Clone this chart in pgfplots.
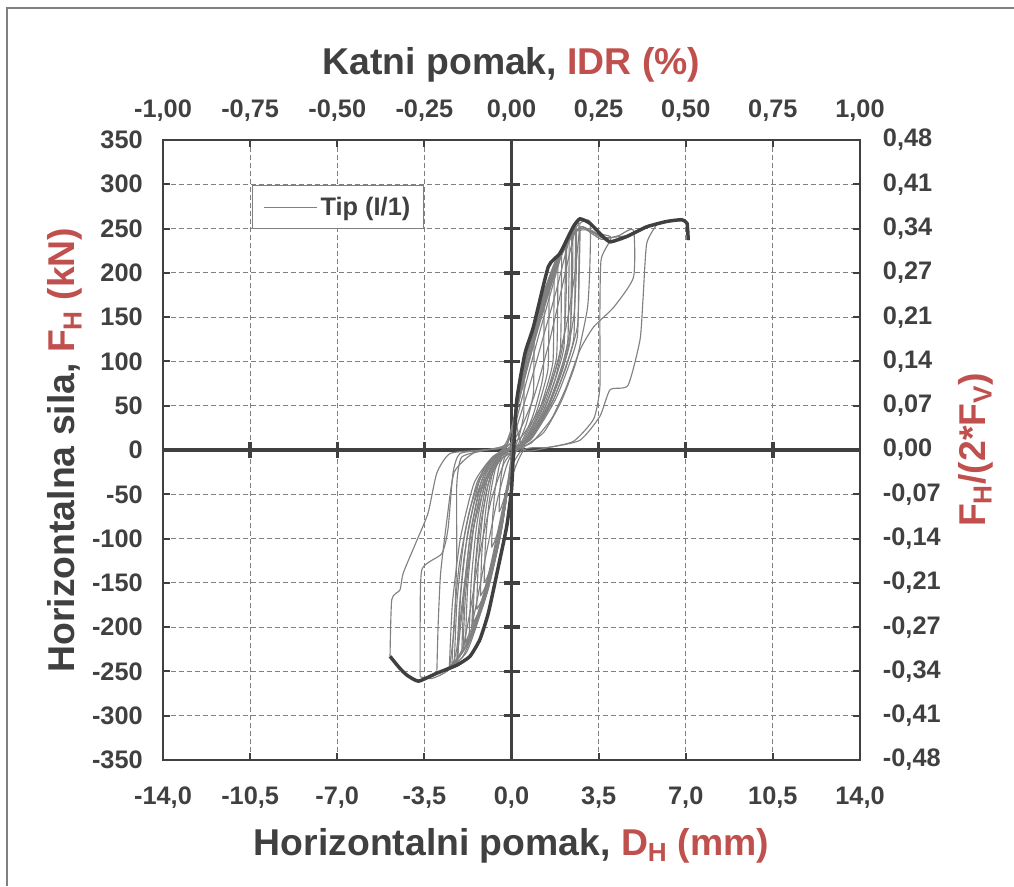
\documentclass[border=0pt]{standalone}
\usepackage{pgfplots}
\pgfplotsset{compat=1.18}
\usepackage{fontspec}
\setmainfont{Liberation Sans}

\definecolor{txt}{HTML}{404040}
\definecolor{accent}{HTML}{C0504D}
\definecolor{loopc}{HTML}{808080}
\definecolor{gridc}{HTML}{808080}

\newcommand{\tickfont}{\fontsize{19}{22}\selectfont\bfseries}
\newcommand{\titlefont}{\fontsize{28}{32}\selectfont\bfseries}

\pgfplotsset{
  base/.style={scale only axis, width=522.75pt, height=465pt,
    xmin=-14, xmax=14, ymin=-350, ymax=350,
    at={(0,0)}, anchor=south west},
  hyst/.style={color=loopc, line width=0.85pt, smooth, tension=0.35, forget plot, mark=none},
}

\begin{document}
\begin{tikzpicture}
\useasboundingbox (-122.25pt,-94.5pt) rectangle (638.25pt,570pt);
\draw[color=loopc, line width=1.5pt] (-117pt,-94.5pt) -- (-117pt,564pt) -- (638.25pt,564pt);

% frame, grid, bottom and left tick labels
\begin{axis}[base,
  axis line style={txt, line width=2pt},
  xtick={-14,-10.5,-7,-3.5,0,3.5,7,10.5,14},
  xticklabels={{-14,0},{-10,5},{-7,0},{-3,5},{0,0},{3,5},{7,0},{10,5},{14,0}},
  ytick={-350,-300,-250,-200,-150,-100,-50,0,50,100,150,200,250,300,350},
  yticklabels={-350,-300,-250,-200,-150,-100,-50,0,50,100,150,200,250,300,350},
  xtick pos=bottom, ytick pos=left,
  tick align=inside, major tick length=5pt,
  tick style={txt, line width=1.5pt},
  grid=major,
  grid style={gridc, line width=0.9pt, dash pattern=on 3.6pt off 2.4pt},
  xticklabel style={font=\tickfont, text=txt, anchor=base, inner sep=0pt, yshift=-33pt},
  yticklabel style={font=\tickfont, text=txt, anchor=east, inner sep=0pt, xshift=-15pt},
]
\end{axis}

% zero lines through the origin
\begin{axis}[base,
  axis lines=middle,
  axis line style={txt, line width=2.6pt, -},
  xtick={-10.5,-7,-3.5,3.5,7,10.5},
  ytick={-300,-250,-200,-150,-100,-50,50,100,150,200,250,300},
  xticklabels={}, yticklabels={},
  tick align=center, major tick length=12pt,
  tick style={txt, line width=2.6pt},
]
\end{axis}

% data
\begin{axis}[base, hide axis,
  legend cell align=left,
  legend image code/.code={\draw[#1] (0pt,0pt) -- (40pt,0pt);},
  legend style={at={(0.1277,0.9274)}, anchor=north west, draw=loopc, line width=1pt,
    fill=white, font=\tickfont, text=txt, inner xsep=8pt, inner ysep=6.5pt},
]
\addlegendimage{color=loopc, line width=1pt}
\addlegendentry{Tip (I/1)}

\addplot[hyst] coordinates {(-0.5,-70)(-0.475,-49)(-0.41,-28)(-0.3,-10.5)(-0.15,-2.1)(0,1.6)
 (0.025,12)(0.125,33.6)(0.275,57.6)(0.425,74.4)(0.5,80)
 (0.5,60)(0.49,40)(0.425,29.6)(0.325,17.6)(0.15,4)(0.025,0)
 (-0.025,-10.5)(-0.125,-31.5)(-0.275,-52.5)(-0.425,-65.8)(-0.5,-70)};
\addplot[hyst] coordinates {(-0.8,-110)(-0.76,-77)(-0.656,-44)(-0.48,-16.5)(-0.24,-3.3)(0,2.6)
 (0.045,19.5)(0.225,54.6)(0.495,93.6)(0.765,120.9)(0.9,130)
 (0.9,97.5)(0.882,65)(0.765,48.1)(0.585,28.6)(0.27,6.5)(0.045,0)
 (-0.04,-16.5)(-0.2,-49.5)(-0.44,-82.5)(-0.68,-103.4)(-0.8,-110)};
\addplot[hyst] coordinates {(-1.1,-150)(-1.045,-105)(-0.902,-60)(-0.66,-22.5)(-0.33,-4.5)(0,3.4)
 (0.065,25.5)(0.325,71.4)(0.715,122.4)(1.105,158.1)(1.3,170)
 (1.3,127.5)(1.274,85)(1.105,62.9)(0.845,37.4)(0.39,8.5)(0.065,0)
 (-0.055,-22.5)(-0.275,-67.5)(-0.605,-112.5)(-0.935,-141)(-1.1,-150)};
\addplot[hyst] coordinates {(-1.25,-165)(-1.19,-115.5)(-1.025,-66)(-0.75,-24.8)(-0.375,-5)(0,3.7)
 (0.075,27.8)(0.375,77.7)(0.825,133.2)(1.275,172)(1.5,185)
 (1.5,138.8)(1.47,92.5)(1.275,68.5)(0.975,40.7)(0.45,9.3)(0.075,0)
 (-0.063,-24.8)(-0.313,-74.3)(-0.688,-123.8)(-1.063,-155.1)(-1.25,-165)};
\addplot[hyst] coordinates {(-1.4,-180)(-1.33,-126)(-1.148,-72)(-0.84,-27)(-0.42,-5.4)(0,4)
 (0.085,30)(0.425,84)(0.935,144)(1.445,186)(1.7,200)
 (1.7,150)(1.666,100)(1.445,74)(1.105,44)(0.51,10)(0.085,0)
 (-0.07,-27)(-0.35,-81)(-0.77,-135)(-1.19,-169.2)(-1.4,-180)};
\addplot[hyst] coordinates {(-1.55,-195)(-1.473,-136.5)(-1.271,-78)(-0.93,-29.3)(-0.465,-5.9)(0,4.2)
 (0.093,31.8)(0.463,89)(1.018,152.6)(1.573,197.2)(1.85,212)
 (1.85,159)(1.813,106)(1.573,78.4)(1.203,46.6)(0.555,10.6)(0.093,0)
 (-0.078,-29.3)(-0.388,-87.8)(-0.853,-146.3)(-1.318,-183.3)(-1.55,-195)};
\addplot[hyst] coordinates {(-1.7,-210)(-1.615,-147)(-1.394,-84)(-1.02,-31.5)(-0.51,-6.3)(0,4.5)
 (0.1,33.8)(0.5,94.5)(1.1,162)(1.7,209.3)(2.0,225)
 (2.0,168.8)(1.96,112.5)(1.7,83.3)(1.3,49.5)(0.6,11.3)(0.1,0)
 (-0.085,-31.5)(-0.425,-94.5)(-0.935,-157.5)(-1.445,-197.4)(-1.7,-210)};
\addplot[hyst] coordinates {(-1.85,-218)(-1.758,-152.6)(-1.517,-87.2)(-1.11,-32.7)(-0.555,-6.5)(0,4.6)
 (0.108,34.8)(0.538,97.4)(1.183,167)(1.828,215.8)(2.15,232)
 (2.15,174)(2.107,116)(1.828,85.8)(1.398,51)(0.645,11.6)(0.108,0)
 (-0.093,-32.7)(-0.463,-98.1)(-1.018,-163.5)(-1.573,-204.9)(-1.85,-218)};
\addplot[hyst] coordinates {(-2.0,-230)(-1.9,-161)(-1.64,-92)(-1.2,-34.5)(-0.6,-6.9)(0,4.8)
 (0.115,36)(0.575,100.8)(1.265,172.8)(1.955,223.2)(2.3,240)
 (2.3,180)(2.254,120)(1.955,88.8)(1.495,52.8)(0.69,12)(0.115,0)
 (-0.1,-34.5)(-0.5,-103.5)(-1.1,-172.5)(-1.7,-216.2)(-2.0,-230)};
\addplot[hyst] coordinates {(-2.15,-235)(-2.043,-164.5)(-1.763,-94)(-1.29,-35.3)(-0.645,-7.1)(0,4.9)
 (0.12,36.9)(0.6,103.3)(1.32,177.1)(2.04,228.8)(2.4,246)
 (2.4,184.5)(2.352,123)(2.04,91)(1.56,54.1)(0.72,12.3)(0.12,0)
 (-0.108,-35.3)(-0.538,-105.8)(-1.183,-176.3)(-1.828,-220.9)(-2.15,-235)};
\addplot[hyst] coordinates {(-2.3,-242)(-2.185,-169.4)(-1.886,-96.8)(-1.38,-36.3)(-0.69,-7.3)(0,5)
 (0.128,37.8)(0.638,105.8)(1.403,181.4)(2.168,234.4)(2.55,252)
 (2.55,189)(2.499,126)(2.168,93.2)(1.658,55.4)(0.765,12.6)(0.128,0)
 (-0.115,-36.3)(-0.575,-108.9)(-1.265,-181.5)(-1.955,-227.5)(-2.3,-242)};
\addplot[hyst] coordinates {(-2.5,-248)(-2.375,-173.6)(-2.05,-99.2)(-1.5,-37.2)(-0.75,-7.4)(0,5.1)
 (0.135,38.4)(0.675,107.5)(1.485,184.3)(2.295,238.1)(2.7,256)
 (2.7,192)(2.646,128)(2.295,94.7)(1.755,56.3)(0.81,12.8)(0.135,0)
 (-0.125,-37.2)(-0.625,-111.6)(-1.375,-186)(-2.125,-233.1)(-2.5,-248)};
\addplot[hyst] coordinates {(-1.6,-200)(-1.5,-150)(-1.3,-95)(-0.95,-40)(-0.45,-8)(0,2)
 (0.15,28)(0.55,72)(1.05,125)(1.5,170)(1.9,210)(2.2,235)
 (2.2,180)(2.1,125)(1.75,80)(1.25,42)(0.6,10)(0.1,0)
 (-0.2,-18)(-0.6,-60)(-1.0,-115)(-1.35,-165)(-1.6,-200)};
\addplot[hyst] coordinates {(-1.95,-225)(-1.85,-165)(-1.6,-100)(-1.2,-45)(-0.6,-10)(0,2)
 (0.2,25)(0.7,70)(1.3,130)(1.8,180)(2.2,225)(2.45,245)
 (2.45,190)(2.35,135)(1.95,85)(1.4,45)(0.7,12)(0.1,0)
 (-0.3,-15)(-0.8,-55)(-1.3,-120)(-1.65,-180)(-1.95,-225)};
\addplot[hyst] coordinates {(-2.2,-240)(-2.1,-180)(-1.9,-120)(-1.5,-60)(-0.9,-15)(-0.2,3)
 (0.3,20)(0.9,60)(1.5,120)(2.0,180)(2.4,230)(2.6,250)
 (2.6,200)(2.5,150)(2.1,95)(1.5,50)(0.8,15)(0.2,0)
 (-0.4,-10)(-1.0,-35)(-1.5,-85)(-1.85,-150)(-2.05,-200)(-2.2,-240)};
\addplot[hyst] coordinates {(-2.4,-246)(-2.3,-190)(-2.1,-130)(-1.7,-70)(-1.1,-20)(-0.3,2)
 (0.4,15)(1.1,45)(1.7,85)(2.2,140)(2.55,200)(2.75,252)
 (2.72,200)(2.65,140)(2.2,94)(1.67,56)(1.0,22)(0.3,0)
 (-0.5,-8)(-1.27,-45)(-1.67,-101)(-2.0,-177)(-2.2,-225)(-2.4,-246)};
\addplot[hyst] coordinates {(-2.5,-248)(-2.3,-200)(-2.2,-120)(-2.2,-40)(-2.0,-8)(-1.0,0)(-0.2,6)
 (0.1,35)(0.6,100)(1.4,180)(2.1,230)(2.7,255)(3.15,258)
 (3.15,210)(3.05,160)(2.6,100)(2.0,55)(1.3,20)(0.5,3)
 (0.0,-20)(-0.5,-90)(-1.1,-165)(-1.8,-220)(-2.5,-245)(-3.0,-252)};
\addplot[hyst] coordinates {(-3.0,-252)(-2.95,-200)(-2.85,-140)(-2.6,-80)(-2.3,-25)(-1.5,-3)(-0.3,5)
 (0.1,35)(0.7,100)(1.5,185)(2.3,238)(2.8,252)(3.3,245)(4.0,240)
 (3.6,215)(3.55,150)(3.55,71)(3.3,35)(2.5,10)(1.5,3)(0.5,0)
 (-0.1,-40)(-0.6,-110)(-1.2,-180)(-1.8,-228)(-2.6,-250)(-3.2,-258)(-3.67,-256)};
\addplot[hyst] coordinates {(-3.67,-256)(-3.67,-200)(-3.6,-135)(-2.8,-117)(-2.55,-89)(-2.35,-26)(-2.07,-4)(-1.0,0)(-0.2,5)
 (0.2,45)(0.8,115)(1.6,195)(2.4,243)(2.9,250)(3.6,238)(4.3,242)(4.9,248)
 (4.9,195)(4.1,161)(3.3,139)(2.75,113)(2.2,71)(1.6,35)(0.8,8)(0.2,0)
 (-0.2,-45)(-0.8,-125)(-1.4,-195)(-2.0,-235)(-3.0,-252)(-3.7,-260)(-4.3,-252)(-4.88,-233)};
\addplot[hyst] coordinates {(-4.88,-233)(-4.81,-169)(-4.48,-158)(-4.35,-139)(-3.8,-102)(-3.35,-71)(-3.0,-26)(-2.47,-4)(-1.2,0)(-0.2,5)
 (0.2,50)(0.9,125)(1.7,200)(2.5,245)(3.2,248)(3.9,236)(4.7,243)(5.5,252)(5.83,255)
 (5.43,233)(5.28,169)(5.16,124)(4.68,73)(3.96,68)(3.55,38)(2.75,11)(1.5,3)(0.5,0)
 (0.2,40)(1.0,130)(2.0,220)(2.8,252)(3.6,240)(4.6,242)(5.5,252)(6.3,258)(6.9,259)(7.1,252)(7.1,237)};

% envelope
\addplot[color=txt, line width=2.6pt, smooth, tension=0.3, forget plot] coordinates {
 (-4.88,-233)(-4.5,-246)(-4.21,-254)(-3.74,-261)(-3.0,-252)(-2.2,-243)(-1.67,-233)
 (-1.27,-214)(-0.93,-184)(-0.53,-132)(-0.19,-86)(0.0,-45)(0.07,-8)(0.21,56)(0.54,109)
 (0.88,139)(1.48,207)(1.95,222)(2.48,252)(2.75,261)(3.15,256)(3.6,243)(3.96,235)
 (4.63,241)(5.43,252)(6.23,258)(6.83,260)(7.05,256)(7.1,237)};
\end{axis}

% top and right scales
\begin{axis}[base,
  axis x line*=top, axis y line*=right,
  axis line style={txt, line width=2pt},
  xtick={-14,-10.5,-7,-3.5,0,3.5,7,10.5,14},
  xticklabels={{-1,00},{-0,75},{-0,50},{-0,25},{0,00},{0,25},{0,50},{0,75},{1,00}},
  ytick={-350,-300,-250,-200,-150,-100,-50,0,50,100,150,200,250,300,350},
  yticklabels={{-0,48},{-0,41},{-0,34},{-0,27},{-0,21},{-0,14},{-0,07},{0,00},{0,07},{0,14},{0,21},{0,27},{0,34},{0,41},{0,48}},
  tick align=inside, major tick length=5pt,
  tick style={txt, line width=1.5pt},
  xticklabel style={font=\tickfont, text=txt, anchor=base, inner sep=0pt, yshift=17.25pt},
  yticklabel style={font=\tickfont, text=txt, anchor=west, inner sep=0pt, xshift=17pt},
]
\end{axis}

% titles
\node[font=\titlefont, text=txt, anchor=base, inner sep=0pt] at (261.375pt,-71.25pt)
  {Horizontalni pomak, \textcolor{accent}{D\textsubscript{H} (mm)}};
\node[font=\titlefont, text=txt, anchor=base, inner sep=0pt] at (261.375pt,513.75pt)
  {Katni pomak, \textcolor{accent}{IDR (\%)}};
\node[font=\titlefont, text=txt, anchor=base, inner sep=0pt, rotate=90] at (-66pt,232.5pt)
  {Horizontalna sila, \textcolor{accent}{F\textsubscript{H} (kN)}};
\node[font=\titlefont, text=accent, anchor=base, inner sep=0pt, rotate=90] at (616.5pt,232.5pt)
  {F\textsubscript{H}/(2*F\textsubscript{V})};
\end{tikzpicture}
\end{document}
